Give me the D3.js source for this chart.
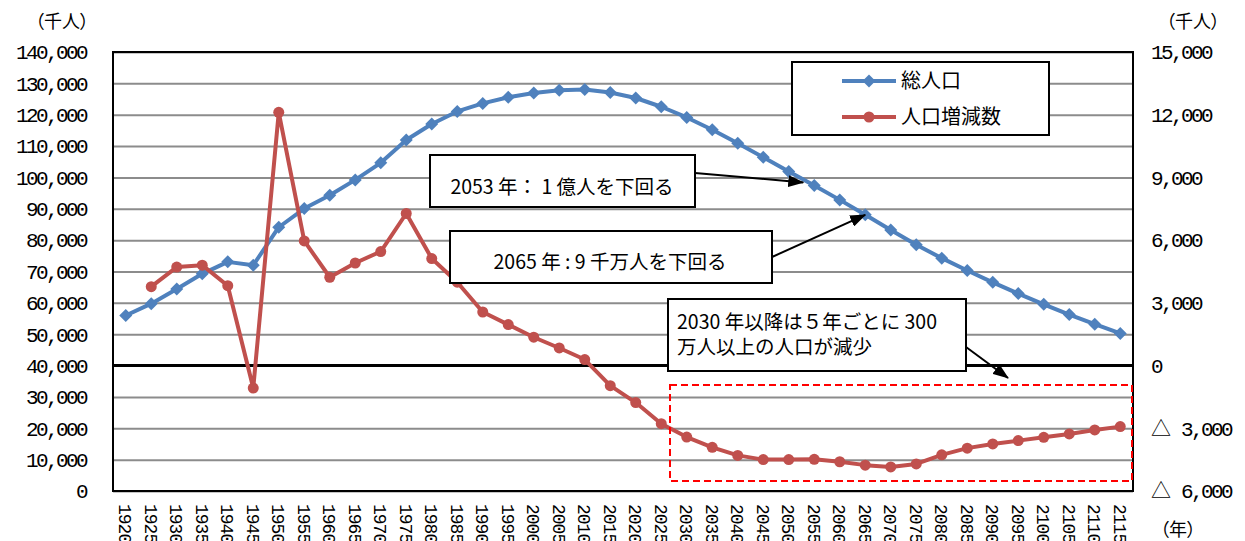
<!DOCTYPE html>
<html>
<head>
<meta charset="utf-8">
<script src="https://cdn.jsdelivr.net/npm/d3@7"></script>
<style>
  html, body { margin: 0; padding: 0; background: #fff; }
  svg { display: block; }
  .num { font-family: "Liberation Mono", "DejaVu Sans Mono", monospace; font-size: 21px; letter-spacing: -2.6px; fill: #000; }
  .tri { font-family: "Noto Sans CJK JP", sans-serif; font-size: 20px; letter-spacing: 0; }
  .xlab { font-family: "Liberation Mono", "DejaVu Sans Mono", monospace; font-size: 18px; letter-spacing: -1px; fill: #000; }
  .jp { font-family: "Noto Sans CJK JP", sans-serif; fill: #000; }
  .palt { font-feature-settings: "palt"; }
</style>
</head>
<body>
<svg id="chart" width="1245" height="541"></svg>
<script>
// Census years and projection years (5-year steps)
const years = ["1920","1925","1930","1935","1940","1945","1950","1955","1960","1965",
               "1970","1975","1980","1985","1990","1995","2000","2005","2010","2015",
               "2020","2025","2030","2035","2040","2045","2050","2055","2060","2065",
               "2070","2075","2080","2085","2090","2095","2100","2105","2110","2115"];

// 総人口 (thousand persons), left axis
const totalPopulation = [55963, 59737, 64450, 69254, 73075, 72000, 84115, 90077, 94302, 99209,
                         104665, 111940, 117060, 121049, 123611, 125570, 126926, 127768, 128057, 127095,
                         125325, 122544, 119125, 115216, 110919, 106421, 101923, 97441, 92840, 88077,
                         83226, 78520, 74250, 70300, 66550, 62960, 59530, 56260, 53180, 50260];

// 人口増減数 over the preceding 5 years (thousand persons), right axis
const populationChange = [null, 3774, 4713, 4804, 3821, -1075, 12115, 5962, 4225, 4907,
                          5456, 7275, 5120, 3989, 2562, 1959, 1356, 842, 289, -962,
                          -1770, -2781, -3419, -3909, -4297, -4498, -4498, -4482, -4601, -4763,
                          -4851, -4706, -4270, -3950, -3750, -3590, -3430, -3270, -3080, -2920];

const leftTicks = [0, 10000, 20000, 30000, 40000, 50000, 60000, 70000,
                   80000, 90000, 100000, 110000, 120000, 130000, 140000];
const rightTicks = [-6000, -3000, 0, 3000, 6000, 9000, 12000, 15000];

const seriesNames = ["総人口", "人口増減数"];
const unitLabel = "（千人）";
const yearLabel = "（年）";
const noteA = "2053 年： 1 億人を下回る";
const noteB = "2065 年 : 9 千万人を下回る";
const noteC = ["2030 年以降は５年ごとに 300", "万人以上の人口が減少"];

const BLUE = "#4F81BD", RED = "#C0504D";

const svg = d3.select("#chart");
const plot = { left: 113, right: 1133, top: 52, bottom: 491 };

const x = d3.scaleBand().domain(years).range([plot.left, plot.right]).padding(0);
const yL = d3.scaleLinear().domain([0, 140000]).range([plot.bottom, plot.top]);
const yR = d3.scaleLinear().domain([-6000, 15000]).range([plot.bottom, plot.top]);
const cx = d => x(d) + x.bandwidth() / 2;

const fmt = d3.format(",");

const defs = svg.append("defs");
defs.append("marker")
  .attr("id", "arrowhead")
  .attr("markerUnits", "userSpaceOnUse")
  .attr("markerWidth", 16).attr("markerHeight", 12)
  .attr("refX", 15).attr("refY", 6)
  .attr("orient", "auto")
  .append("path").attr("d", "M0,0 L16,6 L0,12 Z").attr("fill", "#000");

// Horizontal gridlines
const gLeft = svg.append("g")
  .attr("transform", `translate(${plot.left},0)`)
  .call(d3.axisLeft(yL).tickValues(leftTicks).tickSize(-(plot.right - plot.left)).tickFormat(""));
gLeft.select(".domain").remove();
gLeft.selectAll(".tick line").attr("stroke", "#8c8c8c").attr("stroke-width", 2);

// Left axis labels
svg.append("g").selectAll("text").data(leftTicks).join("text")
  .attr("class", "num")
  .attr("x", 86).attr("y", d => yL(d)).attr("dy", "0.35em")
  .attr("text-anchor", "end")
  .text(d => fmt(d));

// Right axis labels; negatives are written with a leading triangle
const rightLabels = svg.append("g").selectAll("text").data(rightTicks).join("text")
  .attr("class", "num")
  .attr("x", 1151).attr("y", d => yR(d)).attr("dy", "0.35em")
  .attr("text-anchor", "start");
rightLabels.each(function (d) {
  const t = d3.select(this);
  if (d < 0) {
    t.append("tspan").attr("class", "tri").text("△");
    t.append("tspan").text(" " + fmt(-d));
  } else {
    t.text(fmt(d));
  }
});

// Category labels, rotated
svg.append("g").selectAll("text").data(years).join("text")
  .attr("class", "xlab")
  .attr("transform", d => `translate(${cx(d)},504) rotate(90)`)
  .attr("dy", "0.35em")
  .text(d => d);

// Plot frame
svg.append("rect")
  .attr("x", plot.left).attr("y", plot.top)
  .attr("width", plot.right - plot.left).attr("height", plot.bottom - plot.top)
  .attr("fill", "none").attr("stroke", "#000").attr("stroke-width", 2);

// Zero line of the change axis
svg.append("line")
  .attr("x1", plot.left).attr("x2", plot.right)
  .attr("y1", yR(0)).attr("y2", yR(0))
  .attr("stroke", "#000").attr("stroke-width", 3);

// Total population series
const popPts = years.map((d, i) => ({ year: d, v: totalPopulation[i] }));
svg.append("path").datum(popPts)
  .attr("fill", "none").attr("stroke", BLUE).attr("stroke-width", 4).attr("stroke-linejoin", "round")
  .attr("d", d3.line().x(d => cx(d.year)).y(d => yL(d.v)));
svg.append("g").selectAll("path").data(popPts).join("path")
  .attr("transform", d => `translate(${cx(d.year)},${yL(d.v)})`)
  .attr("d", "M0,-6.5 L6.5,0 L0,6.5 L-6.5,0 Z")
  .attr("fill", BLUE);

// Population change series
const chgPts = years.map((d, i) => ({ year: d, v: populationChange[i] })).filter(d => d.v !== null);
svg.append("path").datum(chgPts)
  .attr("fill", "none").attr("stroke", RED).attr("stroke-width", 4).attr("stroke-linejoin", "round")
  .attr("d", d3.line().x(d => cx(d.year)).y(d => yR(d.v)));
svg.append("g").selectAll("circle").data(chgPts).join("circle")
  .attr("cx", d => cx(d.year)).attr("cy", d => yR(d.v)).attr("r", 5.5)
  .attr("fill", RED);

// Dashed highlight around the projected decline
svg.append("rect")
  .attr("x", 670).attr("y", 385).attr("width", 462).attr("height", 96)
  .attr("fill", "none").attr("stroke", "#ff0000").attr("stroke-width", 2)
  .attr("stroke-dasharray", "7,4");

// Callout boxes with arrows
function callout(box, lines, lineYs, textX, anchor, from, to) {
  svg.append("line")
    .attr("x1", from[0]).attr("y1", from[1]).attr("x2", to[0]).attr("y2", to[1])
    .attr("stroke", "#000").attr("stroke-width", 2)
    .attr("marker-end", "url(#arrowhead)");
  svg.append("rect")
    .attr("x", box[0]).attr("y", box[1]).attr("width", box[2]).attr("height", box[3])
    .attr("fill", "#fff").attr("stroke", "#000").attr("stroke-width", 2);
  lines.forEach((t, i) => {
    svg.append("text").attr("class", "jp")
      .attr("x", textX).attr("y", lineYs[i]).attr("dy", "0.35em")
      .attr("text-anchor", anchor)
      .style("font-size", "19.5px")
      .text(t);
  });
}

callout([430, 155, 265, 52], [noteA], [187], 562, "middle",
        [695, 173], [cx("2055") - 11, yL(100000) + 5]);
callout([450, 231, 322, 52], [noteB], [262], 610, "middle",
        [772, 257], [cx("2065"), yL(totalPopulation[29])]);
callout([668, 299, 298, 72], noteC, [322, 347], 677, "start",
        [966, 347], [1008, 378]);

// Legend
const lg = svg.append("g");
lg.append("rect").attr("x", 792).attr("y", 62).attr("width", 257).attr("height", 73)
  .attr("fill", "#fff").attr("stroke", "#000").attr("stroke-width", 2);
const legendRows = [{ name: seriesNames[0], color: BLUE, y: 81, shape: "diamond" },
                    { name: seriesNames[1], color: RED, y: 117, shape: "circle" }];
legendRows.forEach(r => {
  lg.append("line").attr("x1", 842).attr("x2", 896).attr("y1", r.y).attr("y2", r.y)
    .attr("stroke", r.color).attr("stroke-width", 4);
  if (r.shape === "diamond") {
    lg.append("path").attr("transform", `translate(869,${r.y})`)
      .attr("d", "M0,-6.5 L6.5,0 L0,6.5 L-6.5,0 Z").attr("fill", r.color);
  } else {
    lg.append("circle").attr("cx", 869).attr("cy", r.y).attr("r", 5.5).attr("fill", r.color);
  }
  lg.append("text").attr("class", "jp").attr("x", 901).attr("y", r.y).attr("dy", "0.35em")
    .style("font-size", "20px").text(r.name);
});

// Axis unit titles
svg.append("text").attr("class", "jp palt").attr("x", 62).attr("y", 22).attr("dy", "0.35em")
  .attr("text-anchor", "middle").style("font-size", "18px").text(unitLabel);
svg.append("text").attr("class", "jp palt").attr("x", 1193).attr("y", 22).attr("dy", "0.35em")
  .attr("text-anchor", "middle").style("font-size", "18px").text(unitLabel);
svg.append("text").attr("class", "jp palt").attr("x", 1178).attr("y", 530).attr("dy", "0.35em")
  .attr("text-anchor", "middle").style("font-size", "18px").text(yearLabel);
</script>
</body>
</html>
